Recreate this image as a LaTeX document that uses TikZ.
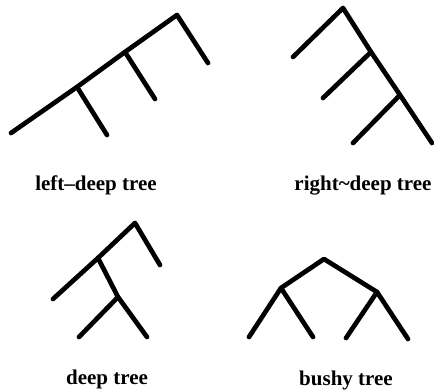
\documentclass[tikz,border=0pt]{standalone}
\usepackage{fontspec}
\setmainfont{Liberation Serif}
\begin{document}
\begin{tikzpicture}[x=1pt,y=-1pt,
  edge/.style={line width=4.7pt,line cap=round,line join=round},
  lbl/.style={font=\fontsize{21}{23}\selectfont\bfseries,inner sep=0pt,anchor=base}]
\useasboundingbox (0,0) rectangle (434,391);
% left-deep tree
\coordinate (L1) at (177,15);
\coordinate (L1r) at (208,63);
\coordinate (L2) at (125,52);
\coordinate (L2r) at (155,99);
\coordinate (L3) at (77,87);
\coordinate (L3r) at (107,135);
\coordinate (L3l) at (11,133);
\draw[edge] (L1r) -- (L1) -- (L2) -- (L3) -- (L3l);
\draw[edge] (L2) -- (L2r);
\draw[edge] (L3) -- (L3r);
\node[lbl] (tL) at (96,190) {left–deep tree};
% right-deep tree
\coordinate (R1) at (343,8);
\coordinate (R1l) at (293,57);
\coordinate (R2) at (371,52);
\coordinate (R2l) at (323,98);
\coordinate (R3) at (400,95);
\coordinate (R3l) at (353,143);
\coordinate (R3r) at (432,143);
\draw[edge] (R1l) -- (R1) -- (R2) -- (R3) -- (R3r);
\draw[edge] (R2) -- (R2l);
\draw[edge] (R3) -- (R3l);
\node[lbl] (tR) at (363,190) {right\string~deep tree};
% deep tree
\coordinate (D1) at (135,223);
\coordinate (D1r) at (160,265);
\coordinate (D2) at (98,258);
\coordinate (D2l) at (53,299);
\coordinate (D3) at (118,297);
\coordinate (D3l) at (79,337);
\coordinate (D3r) at (147,337);
\draw[edge] (D1r) -- (D1) -- (D2) -- (D2l);
\draw[edge] (D2) -- (D3) -- (D3r);
\draw[edge] (D3) -- (D3l);
\node[lbl] (tD) at (107,384) {deep tree};
% bushy tree
\coordinate (B1) at (324,259);
\coordinate (B2) at (281,288);
\coordinate (B3) at (377,292);
\coordinate (B2l) at (249,337);
\coordinate (B2r) at (313,337);
\coordinate (B3l) at (346,338);
\coordinate (B3r) at (408,339);
\draw[edge] (B2) -- (B1) -- (B3);
\draw[edge] (B2l) -- (B2) -- (B2r);
\draw[edge] (B3l) -- (B3) -- (B3r);
\node[lbl] (tB) at (346,385) {bushy tree};
\end{tikzpicture}
\end{document}
